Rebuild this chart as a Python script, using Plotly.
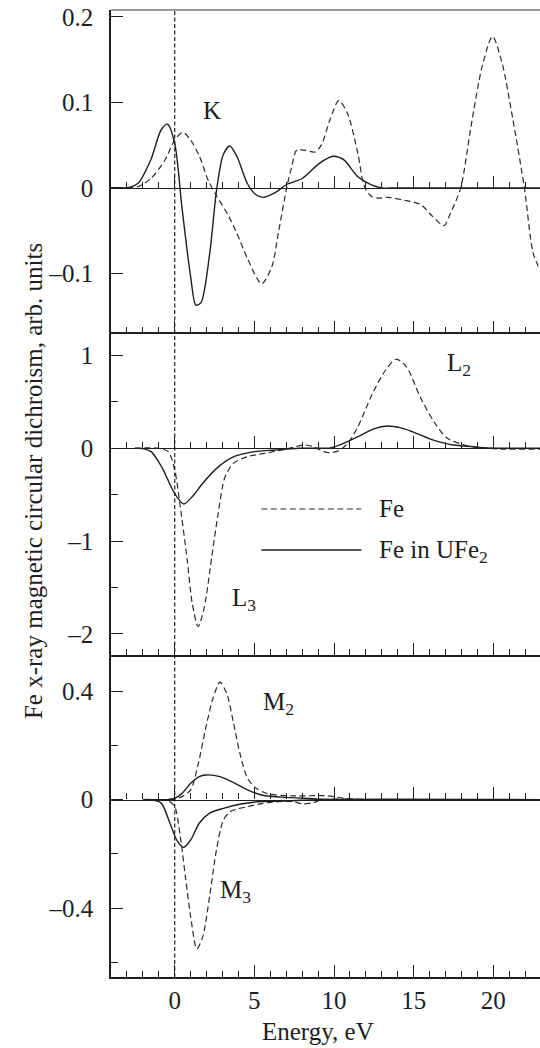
import plotly.graph_objects as go

# ---- K edge (Fe 1s) -------------------------------------------------------
k_fe_e = [-3.0, -2.3, -1.5, -0.6, 0.0, 0.5, 1.0, 1.55, 2.1, 2.65, 3.3, 3.9, 4.6,
          5.45, 6.1, 6.5, 7.05, 7.35, 7.65, 8.2, 8.8, 9.2, 9.75, 10.3, 10.85,
          11.5, 11.9, 12.35, 12.8, 13.4, 14.3, 15.4, 16.2, 16.9, 17.3, 17.95,
          18.6, 19.3, 19.95, 20.55, 21.2, 21.95, 22.5, 22.93]
k_fe_v = [0.0, 0.0015, 0.011, 0.033, 0.056, 0.065, 0.056, 0.037, 0.009, -0.010,
          -0.030, -0.053, -0.084, -0.112, -0.092, -0.053, 0.002, 0.025, 0.044,
          0.044, 0.042, 0.050, 0.080, 0.102, 0.087, 0.040, 0.002, -0.010, -0.012,
          -0.011, -0.014, -0.019, -0.0335, -0.044, -0.030, 0.0, 0.072, 0.142,
          0.177, 0.146, 0.083, 0.0, -0.076, -0.096]

k_ufe2_e = [-3.3, -2.8, -2.3, -1.5, -0.85, -0.45, 0.0, 0.45, 1.0, 1.33, 1.65,
            2.2, 2.63, 3.05, 3.45, 3.9, 4.55, 5.1, 5.55, 6.3, 7.05, 8.0, 9.1,
            9.95, 10.6, 11.5, 12.35, 13.0, 14.0, 22.93]
k_ufe2_v = [0.0, 0.001, 0.0055, 0.033, 0.068, 0.0745, 0.052, -0.022, -0.104,
            -0.137, -0.134, -0.076, -0.002, 0.039, 0.049, 0.037, 0.0055, -0.008,
            -0.011, -0.0055, 0.0043, 0.011, 0.029, 0.037, 0.033, 0.013, 0.0035,
            0.0, 0.0, 0.0]

# ---- L2,3 edges (Fe 2p) ---------------------------------------------------
l_fe_e = [-2.5, -1.0, -0.4, 0.0, 0.35, 0.78, 1.1, 1.47, 1.86, 2.3, 2.73, 3.16,
          3.7, 4.57, 5.65, 6.74, 7.4, 8.15, 8.7, 9.13, 9.67, 10.3, 10.86, 11.5,
          12.37, 13.24, 13.89, 14.54, 15.4, 16.3, 17.1, 18.2, 19.3, 20.5, 22.93]
l_fe_v = [0.0, 0.0, -0.036, -0.234, -0.63, -1.2, -1.67, -1.92, -1.71, -1.2,
          -0.70, -0.306, -0.16, -0.09, -0.054, -0.018, 0.01, 0.036, 0.018,
          -0.018, -0.047, -0.025, 0.054, 0.233, 0.574, 0.844, 0.96, 0.88, 0.556,
          0.28, 0.11, 0.036, 0.007, -0.008, -0.008]

l_ufe2_e = [-2.5, -2.0, -1.48, -0.83, -0.18, 0.2, 0.57, 1.11, 1.76, 2.63, 3.71,
            5.0, 6.3, 7.8, 9.2, 9.76, 10.6, 11.7, 12.5, 13.35, 14.2, 14.9, 16.2,
            16.6, 17.5, 18.7, 19.3, 22.93]
l_ufe2_v = [0.0, -0.003, -0.036, -0.198, -0.43, -0.54, -0.60, -0.52, -0.377,
            -0.216, -0.09, -0.036, -0.018, 0.0, 0.002, 0.004, 0.054, 0.143, 0.21,
            0.24, 0.22, 0.18, 0.09, 0.07, 0.036, 0.017, 0.007, 0.0]

# ---- M2,3 edges (Fe 3p): separate M2 and M3 contributions ------------------
m2_fe_e = [-1.5, -0.5, 0.0, 0.46, 1.0, 1.43, 1.97, 2.4, 2.84, 3.27, 3.7, 4.14,
           4.57, 5.11, 5.87, 7.39, 9.56, 10.64, 12.0, 22.93]
m2_fe_v = [0.0, 0.0, 0.002, 0.011, 0.036, 0.12, 0.27, 0.373, 0.433, 0.39, 0.28,
           0.159, 0.079, 0.042, 0.021, 0.014, 0.014, 0.005, 0.0, 0.0]

m3_fe_e = [-1.5, -0.8, -0.4, 0.0, 0.35, 0.67, 1.0, 1.39, 1.76, 2.19, 2.62, 3.06,
           3.49, 4.57, 5.87, 7.39, 8.04, 8.69, 9.34, 12.0, 22.93]
m3_fe_v = [0.0, 0.0, -0.004, -0.026, -0.136, -0.284, -0.431, -0.55, -0.505,
           -0.357, -0.185, -0.075, -0.044, -0.026, -0.011, -0.007, -0.016,
           -0.011, 0.0, 0.0, 0.0]

m2_ufe2_e = [-1.5, -0.5, 0.0, 0.46, 1.0, 1.54, 1.97, 2.84, 3.7, 4.57, 5.44,
             6.74, 8.47, 10.0, 22.93]
m2_ufe2_v = [0.0, 0.0, 0.005, 0.023, 0.06, 0.085, 0.091, 0.085, 0.063, 0.036,
             0.017, 0.009, 0.004, 0.0, 0.0]

m3_ufe2_e = [-2.0, -1.5, -0.85, -0.3, 0.13, 0.56, 1.0, 1.54, 2.19, 3.06, 4.14,
             5.44, 7.39, 9.0, 22.93]
m3_ufe2_v = [0.0, 0.0, -0.013, -0.087, -0.149, -0.176, -0.149, -0.087, -0.05,
             -0.032, -0.016, -0.007, -0.004, 0.0, 0.0]

# ---- axes -----------------------------------------------------------------
x_range = [-4.0, 22.93]
x_major = [0, 5, 10, 15, 20]
panels = [
    dict(domain=[0.6665, 1.0], range=[-0.169, 0.208],
         tickvals=[0.2, 0.1, 0.0, -0.1], ticktext=["0.2", "0.1", "0", "–0.1"],
         minor=[]),
    dict(domain=[0.3335, 0.6665], range=[-2.222, 1.248],
         tickvals=[1, 0, -1, -2], ticktext=["1", "0", "–1", "–2"],
         minor=[0.5, -0.5, -1.5]),
    dict(domain=[0.0, 0.3335], range=[-0.654, 0.535],
         tickvals=[0.4, 0.0, -0.4], ticktext=["0.4", "0", "–0.4"],
         minor=[0.2, -0.2, -0.6]),
]

INK = "#1e1e1e"
FONT = "Liberation Serif, 'Times New Roman', Times, serif"
FS = 25

fig = go.Figure()

solid = dict(color=INK, width=1.4, shape="spline", smoothing=0.8)
dashed = dict(color="#2a2a2a", width=1.2, dash="6px,3.5px", shape="spline",
              smoothing=0.8)

series = [
    (k_fe_e, k_fe_v, "x", "y", dashed),
    (k_ufe2_e, k_ufe2_v, "x", "y", solid),
    (l_fe_e, l_fe_v, "x2", "y2", dashed),
    (l_ufe2_e, l_ufe2_v, "x2", "y2", solid),
    (m2_fe_e, m2_fe_v, "x3", "y3", dashed),
    (m3_fe_e, m3_fe_v, "x3", "y3", dashed),
    (m2_ufe2_e, m2_ufe2_v, "x3", "y3", solid),
    (m3_ufe2_e, m3_ufe2_v, "x3", "y3", solid),
]
for xs, ys, xa, ya, ln in series:
    fig.add_trace(go.Scatter(x=xs, y=ys, xaxis=xa, yaxis=ya, mode="lines",
                             line=ln, showlegend=False, hoverinfo="skip"))

common_x = dict(range=x_range, tickmode="array", tickvals=x_major,
                ticks="inside", ticklen=12, tickwidth=1.3, tickcolor=INK,
                minor=dict(tickmode="linear", tick0=0, dtick=1, ticks="inside",
                           ticklen=6, tickwidth=1.1, tickcolor=INK),
                showline=True, linecolor=INK, linewidth=1.5,
                showgrid=False, zeroline=False, fixedrange=True)

layout = dict(
    width=540, height=1048,
    margin=dict(l=111, r=0, t=10, b=71, pad=0),
    paper_bgcolor="white", plot_bgcolor="white",
    font=dict(family=FONT, size=FS, color=INK),
    showlegend=False,
)

for i, p in enumerate(panels, start=1):
    sfx = "" if i == 1 else str(i)
    # bottom frame of each panel
    layout["xaxis" + sfx] = dict(
        common_x, domain=[0, 1], anchor="y" + sfx,
        showticklabels=(i == 3), ticktext=[str(v) for v in x_major],
        ticklabelstandoff=0,
        tickfont=dict(family=FONT, size=FS, color=INK))
    layout["yaxis" + sfx] = dict(
        domain=p["domain"], range=p["range"], anchor="x" + sfx,
        tickmode="array", tickvals=p["tickvals"], ticktext=p["ticktext"],
        ticks="inside", ticklen=12, tickwidth=1.3, tickcolor=INK,
        minor=dict(tickmode="array", tickvals=p["minor"], ticks="inside",
                   ticklen=7, tickwidth=1.1, tickcolor=INK),
        ticklabelstandoff=11,
        tickfont=dict(family=FONT, size=FS, color=INK),
        showline=True, linecolor=INK, linewidth=1.5,
        showgrid=False, zeroline=False, fixedrange=True)
    # zero baseline carrying its own energy ticks
    d0, d1 = p["domain"]
    r0, r1 = p["range"]
    zero_pos = d0 + (0 - r0) / (r1 - r0) * (d1 - d0)
    layout["xaxis" + str(i + 3)] = dict(
        common_x, overlaying="x" + sfx, anchor="free", position=zero_pos,
        side="bottom", showticklabels=False, linewidth=1.3)
    fig.add_trace(go.Scatter(x=[], y=[], xaxis="x" + str(i + 3),
                             yaxis="y" + sfx, showlegend=False,
                             hoverinfo="skip"))

fig.update_layout(**layout)

# edge position marker (E = 0) through all three panels
fig.add_shape(type="line", xref="x", yref="paper", x0=0, x1=0, y0=0, y1=1,
              line=dict(color="#1e1e1e", width=1.2, dash="4px,2.5px"))
# upper frame line
fig.add_shape(type="line", xref="paper", yref="paper", x0=0, x1=1, y0=1, y1=1,
              line=dict(color="#7a7a7a", width=1.5))

# legend drawn inside the L panel
fig.add_shape(type="line", xref="x2", yref="y2", x0=5.44, x1=11.72,
              y0=-0.654, y1=-0.654,
              line=dict(color="#2a2a2a", width=1.2, dash="6px,3.5px"))
fig.add_shape(type="line", xref="x2", yref="y2", x0=5.44, x1=11.72,
              y0=-1.096, y1=-1.096, line=dict(color=INK, width=1.4))

notes = [
    ("K", "x", "y", 2.35, 0.090, "center"),
    ("L<sub>2</sub>", "x2", "y2", 16.95, 0.90, "left"),
    ("L<sub>3</sub>", "x2", "y2", 3.45, -1.63, "left"),
    ("Fe", "x2", "y2", 12.7, -0.654, "left"),
    ("Fe in UFe<sub>2</sub>", "x2", "y2", 12.7, -1.11, "left"),
    ("M<sub>2</sub>", "x3", "y3", 5.44, 0.355, "left"),
    ("M<sub>3</sub>", "x3", "y3", 2.74, -0.34, "left"),
]
for txt, xr, yr, xv, yv, xa in notes:
    fig.add_annotation(text=txt, xref=xr, yref=yr, x=xv, y=yv, xanchor=xa,
                       yanchor="middle", showarrow=False,
                       font=dict(family=FONT, size=FS, color=INK))

fig.add_annotation(text="Energy, eV", xref="paper", yref="paper",
                   x=0.4825, y=-0.056, xanchor="center", yanchor="middle",
                   showarrow=False, font=dict(family=FONT, size=FS, color=INK))
fig.add_annotation(text="Fe x-ray magnetic circular dichroism, arb. units",
                   xref="paper", yref="paper", x=-0.1818, y=0.5129,
                   xanchor="center", yanchor="middle", textangle=-90,
                   showarrow=False, font=dict(family=FONT, size=FS, color=INK))

fig.write_html("out.html")
